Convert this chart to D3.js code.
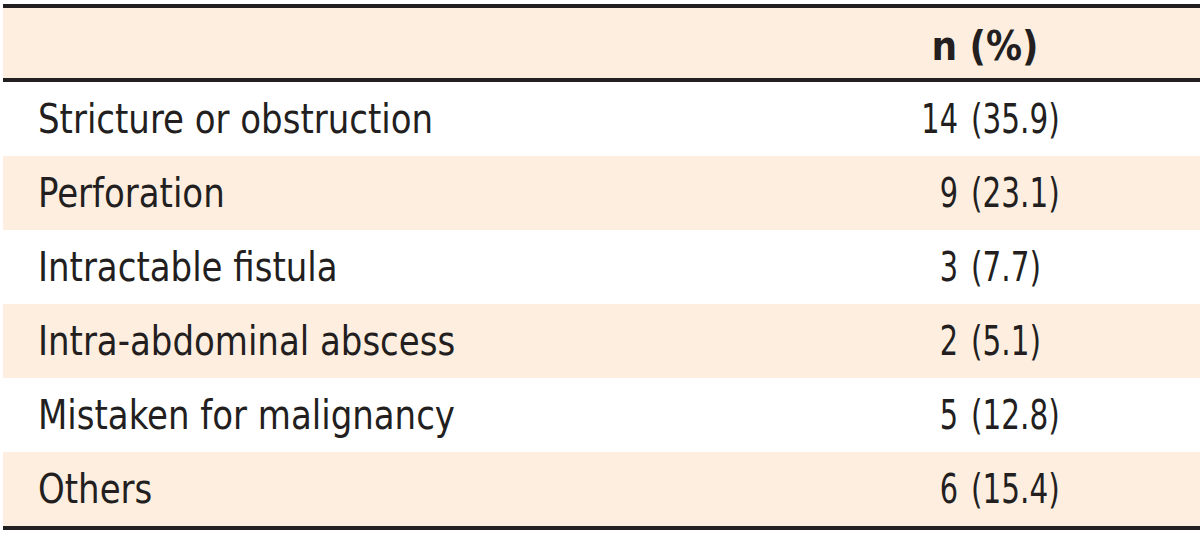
<!DOCTYPE html>
<html>
<head>
<meta charset="utf-8">
<script src="https://cdn.jsdelivr.net/npm/d3@7"></script>
<style>
  html, body { margin: 0; padding: 0; background: #fff; }
  svg text { font-family: "DejaVu Sans Condensed", "DejaVu Sans", sans-serif; font-stretch: condensed; fill: #231f20; }
</style>
</head>
<body>
<div id="chart"></div>
<script>
// table contents
var headerLabel = "n (%)";
var categories = ["Stricture or obstruction", "Perforation", "Intractable fistula",
                  "Intra-abdominal abscess", "Mistaken for malignancy", "Others"];
var counts = [14, 9, 3, 2, 5, 6];
var percents = ["35.9", "23.1", "7.7", "5.1", "12.8", "15.4"];

var W = 1200, H = 533;
var left = 3, right = 1200;
var headTop = 8, headBottom = 78, bodyTop = 82, bodyBottom = 526;

var svg = d3.select("#chart").append("svg")
  .attr("width", W).attr("height", H);

var rows = categories.map(function(c, i) {
  return {label: c, n: counts[i], pct: percents[i], i: i};
});

var y = d3.scaleBand()
  .domain(d3.range(rows.length))
  .range([bodyTop, bodyBottom]);

// header band
svg.append("rect")
  .attr("x", left).attr("y", headTop)
  .attr("width", right - left).attr("height", headBottom - headTop)
  .attr("fill", "#fdeee0");

// striped body rows
svg.selectAll("rect.row").data(rows).enter().append("rect")
  .attr("class", "row")
  .attr("x", left)
  .attr("y", function(d) { return y(d.i); })
  .attr("width", right - left)
  .attr("height", y.bandwidth())
  .attr("fill", function(d) { return d.i % 2 ? "#fdeee0" : "#fff"; });

// rules
[headTop - 2, headBottom + 2, bodyBottom + 2].forEach(function(ry) {
  svg.append("line")
    .attr("x1", left).attr("x2", right)
    .attr("y1", ry).attr("y2", ry)
    .attr("stroke", "#231f20").attr("stroke-width", 4);
});

svg.append("text")
  .attr("transform", "translate(985," + (headTop + 52) + ")")
  .attr("text-anchor", "middle")
  .attr("font-size", 40).attr("font-weight", "bold")
  .text(headerLabel);

var g = svg.selectAll("g.cell").data(rows).enter().append("g")
  .attr("transform", function(d) { return "translate(0," + (y(d.i) + 51) + ")"; });

// the reference face is narrower than DejaVu, so squeeze horizontally
g.append("text")
  .attr("transform", "translate(38,0) scale(0.945,1)")
  .attr("font-size", 40)
  .text(function(d) { return d.label; });

g.append("text")
  .attr("transform", "translate(958,0) scale(0.8,1)")
  .attr("text-anchor", "end")
  .attr("font-size", 40)
  .text(function(d) { return d.n; });

g.append("text")
  .attr("transform", "translate(971,0) scale(0.82,1)")
  .attr("font-size", 40)
  .text(function(d) { return "(" + d.pct + ")"; });
</script>
</body>
</html>
